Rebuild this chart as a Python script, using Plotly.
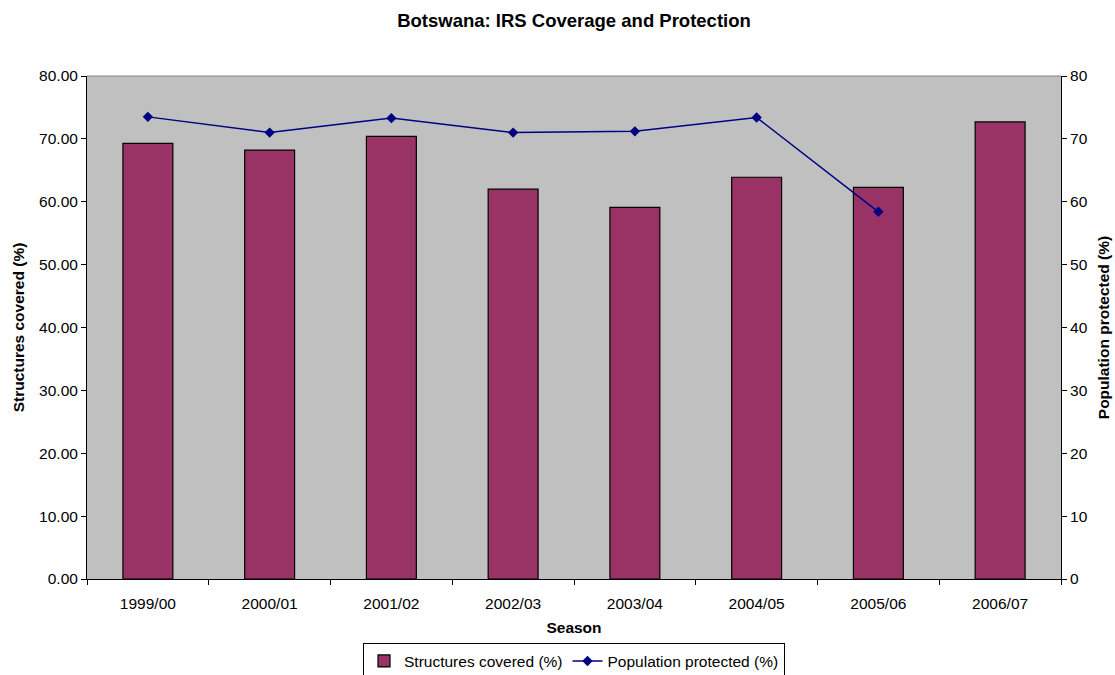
import plotly.graph_objects as go

seasons = ["1999/00", "2000/01", "2001/02", "2002/03", "2003/04", "2004/05", "2005/06", "2006/07"]
structures_covered = [69.3, 68.2, 70.4, 62.0, 59.1, 63.9, 62.3, 72.7]
population_protected = [73.5, 71.0, 73.3, 71.0, 71.2, 73.4, 58.4, None]

font_family = "Liberation Sans, Arial, sans-serif"

fig = go.Figure()
fig.add_trace(go.Bar(
    x=seasons, y=structures_covered, name="Structures covered (%)",
    marker=dict(color="#993366", line=dict(color="#000000", width=1.2)),
    yaxis="y",
))
fig.add_trace(go.Scatter(
    x=seasons, y=population_protected, name="Population protected (%)",
    mode="lines+markers",
    line=dict(color="#000080", width=1.5),
    marker=dict(symbol="diamond", size=8, color="#000080"),
    yaxis="y2", connectgaps=False,
))

fig.update_layout(
    width=1115, height=675,
    margin=dict(l=87, r=54, t=76, b=96, autoexpand=False),
    paper_bgcolor="white", plot_bgcolor="#C0C0C0",
    font=dict(family=font_family, size=15.5, color="black"),
    title=dict(text="<b>Botswana: IRS Coverage and Protection</b>",
               x=0.5, xref="paper", y=0.97, yanchor="middle",
               font=dict(size=18.5, family=font_family)),
    bargap=0.59,
    showlegend=True,
    legend=dict(orientation="h", x=0.5, xanchor="center", y=-0.128, yanchor="top",
                bordercolor="black", borderwidth=1, bgcolor="white",
                font=dict(size=15.5), itemwidth=30, tracegroupgap=0),
    xaxis=dict(
        title=dict(text="<b>Season</b>", font=dict(size=15.5), standoff=11),
        showline=True, linecolor="black", linewidth=1,
        ticks="outside", ticklen=5, tickcolor="black", tickson="boundaries",
        ticklabelstandoff=10,
        showgrid=False, tickfont=dict(size=15.5),
    ),
    yaxis=dict(
        title=dict(text="<b>Structures covered (%)</b>", font=dict(size=15.5), standoff=10),
        range=[0, 80], dtick=10, tickformat=".2f",
        showline=True, linecolor="black", linewidth=1,
        ticks="outside", ticklen=5, tickcolor="black",
        showgrid=False, zeroline=False, tickfont=dict(size=15.5),
    ),
    yaxis2=dict(
        title=dict(text="<b>Population protected (%)</b>", font=dict(size=15.5), standoff=11),
        range=[0, 80], dtick=10, overlaying="y", side="right",
        showline=True, linecolor="black", linewidth=1,
        ticks="outside", ticklen=5, tickcolor="black",
        showgrid=False, zeroline=False, tickfont=dict(size=15.5),
    ),
)

# Gray frame along the top of the plotting area
fig.add_shape(type="line", xref="paper", yref="paper", x0=0, x1=1, y0=1, y1=1,
              line=dict(color="#808080", width=1))

fig.write_html("out.html")
